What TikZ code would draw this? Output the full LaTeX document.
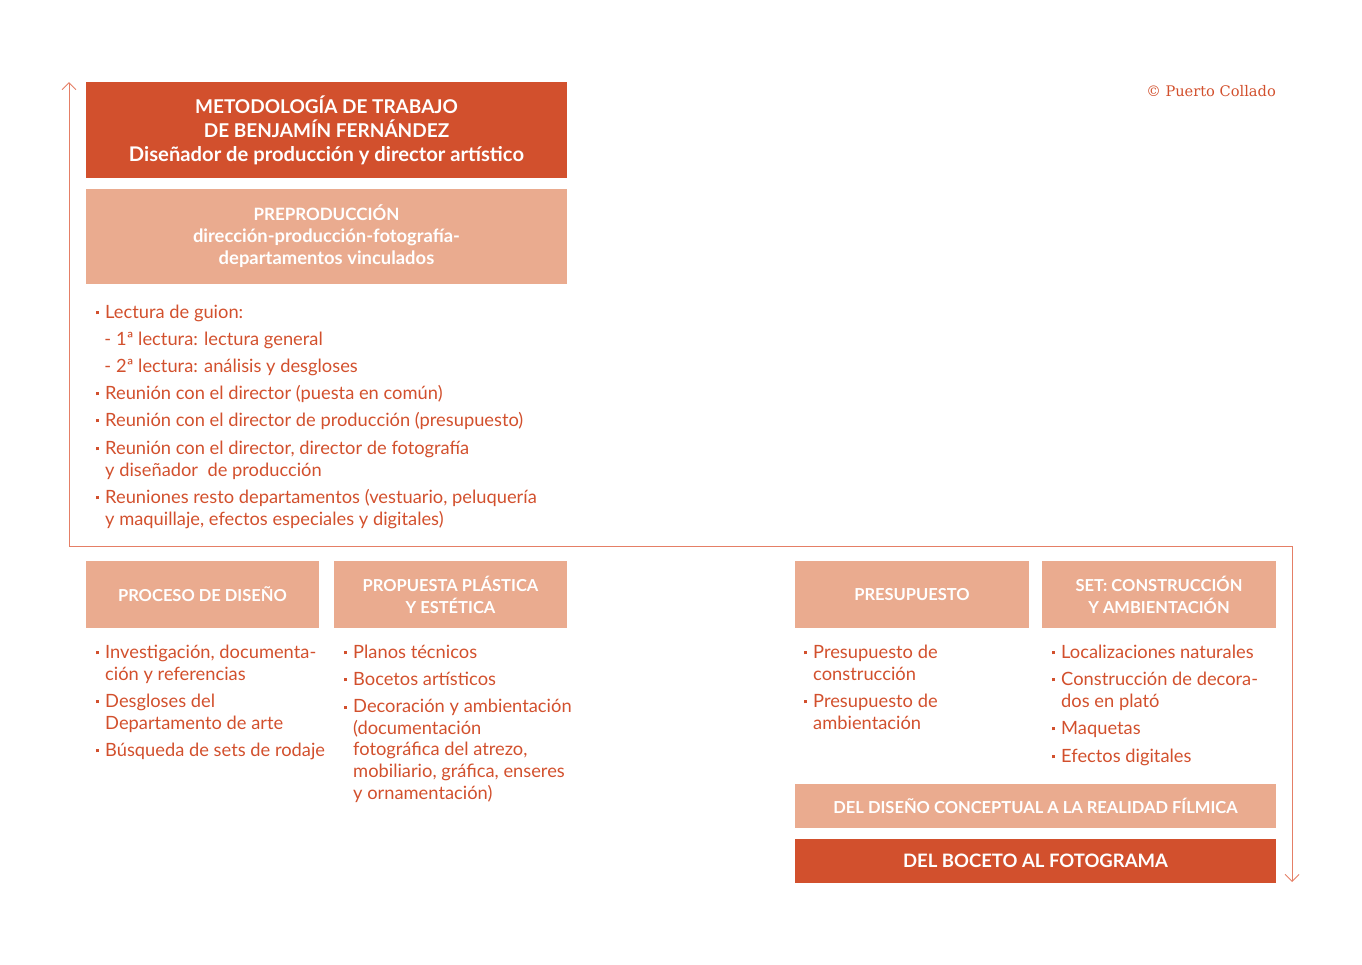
\documentclass[tikz,border=0pt]{standalone}
\usepackage{fontspec}
\setmainfont{Lato}
\newfontfamily\copyfont{DejaVu Serif}
\usetikzlibrary{arrows.meta}
\definecolor{darkor}{HTML}{D2502D}
\definecolor{lightor}{HTML}{EAAB8F}
\definecolor{lineor}{HTML}{E57F66}
\definecolor{txtor}{HTML}{D2502D}
\newcommand{\sqb}{\llap{\raisebox{3.6pt}{\rule{3.2pt}{3.2pt}}\hspace{6pt}}}
\newcommand{\dsh}{\llap{-\hspace{5pt}}}
\begin{document}
\begin{tikzpicture}[x=1pt,y=-1pt,
  darkbox/.style={fill=darkor,draw=none,text=white,align=center,inner sep=0pt,font=\fontsize{19}{24}\selectfont\bfseries},
  lightbox/.style={fill=lightor,draw=none,text=white,align=center,inner sep=0pt,font=\fontsize{16.5}{22}\selectfont\bfseries},
  item/.style={anchor=base west,align=left,inner sep=0pt,text=txtor,font=\fontsize{18.3}{22}\selectfont},
  flow/.style={draw=lineor,line width=0.9pt,{Straight Barb[length=7pt,width=14pt]}-{Straight Barb[length=7pt,width=14pt]}}]
\useasboundingbox (0,0) rectangle (1362,964);
% header boxes
\node[darkbox,minimum width=481pt,minimum height=96pt] (title) at (326.5,130) {METODOLOGÍA DE TRABAJO\\DE BENJAMÍN FERNÁNDEZ\\{\fontsize{20.2}{24}\selectfont Diseñador de producción y director artístico}};
\node[lightbox,minimum width=481pt,minimum height=95pt,font=\fontsize{18.4}{22}\selectfont\bfseries] (prepro) at (326.5,236.5) {{\fontsize{17}{22}\selectfont PREPRODUCCIÓN}\\dirección-producción-fotografía-\\departamentos vinculados};
% copyright
\node[anchor=base east,inner sep=0pt,text=txtor,font=\copyfont\fontsize{14.6}{16}\selectfont] (copy) at (1276,96) {© Puerto Collado};
% preproduction list (y = baseline of last line)
\node[item] (l1) at (105,318) {\sqb Lectura de guion:};
\node[item] (l2) at (116,345) {\dsh 1ª lectura: lectura general};
\node[item] (l3) at (116,372) {\dsh 2ª lectura: análisis y desgloses};
\node[item] (l4) at (105,399) {\sqb Reunión con el director (puesta en común)};
\node[item] (l5) at (105,426) {\sqb Reunión con el director de producción (presupuesto)};
\node[item] (l6) at (105,476) {\sqb Reunión con el director, director de fotografía\\y diseñador\ \ de producción};
\node[item] (l7) at (105,525) {\sqb Reuniones resto departamentos (vestuario, peluquería\\y maquillaje, efectos especiales y digitales)};
% row boxes
\node[lightbox,minimum width=233pt,minimum height=67pt] (proceso) at (202.5,594.5) {PROCESO DE DISEÑO};
\node[lightbox,minimum width=233pt,minimum height=67pt] (propuesta) at (450.5,594.5) {PROPUESTA PLÁSTICA\\Y ESTÉTICA};
\node[lightbox,minimum width=234pt,minimum height=67pt] (presup) at (912,594.5) {PRESUPUESTO};
\node[lightbox,minimum width=234pt,minimum height=67pt] (set) at (1159,594.5) {SET: CONSTRUCCIÓN\\Y AMBIENTACIÓN};
% column lists
\node[item] (a1) at (105,680) {\sqb Investigación, documenta-\\ción y referencias};
\node[item] (a2) at (105,729) {\sqb Desgloses del\\Departamento de arte};
\node[item] (a3) at (105,756) {\sqb Búsqueda de sets de rodaje};
\node[item] (b1) at (353,658) {\sqb Planos técnicos};
\node[item] (b2) at (353,685) {\sqb Bocetos artísticos};
\node[item,font=\fontsize{18.3}{21.6}\selectfont] (b3) at (353,799) {\sqb Decoración y ambientación\\(documentación\\fotográfica del atrezo,\\mobiliario, gráfica, enseres\\y ornamentación)};
\node[item] (c1) at (813,680) {\sqb Presupuesto de\\construcción};
\node[item] (c2) at (813,729) {\sqb Presupuesto de\\ambientación};
\node[item] (d1) at (1061,658) {\sqb Localizaciones naturales};
\node[item] (d2) at (1061,707) {\sqb Construcción de decora-\\dos en plató};
\node[item] (d3) at (1061,734) {\sqb Maquetas};
\node[item] (d4) at (1061,762) {\sqb Efectos digitales};
% bottom boxes
\node[lightbox,minimum width=481pt,minimum height=44pt] (concept) at (1035.5,806) {DEL DISEÑO CONCEPTUAL A LA REALIDAD FÍLMICA};
\node[darkbox,minimum width=481pt,minimum height=44pt,font=\fontsize{18.5}{22}\selectfont\bfseries] (boceto) at (1035.5,861) {DEL BOCETO AL FOTOGRAMA};
% flow line
\coordinate (ftop) at (69,82);
\coordinate (fl) at (69,546);
\coordinate (fr) at (1292,546);
\coordinate (fbot) at (1292,882);
\draw[flow] (ftop) -- (fl) -- (fr) -- (fbot);
\end{tikzpicture}
\end{document}
